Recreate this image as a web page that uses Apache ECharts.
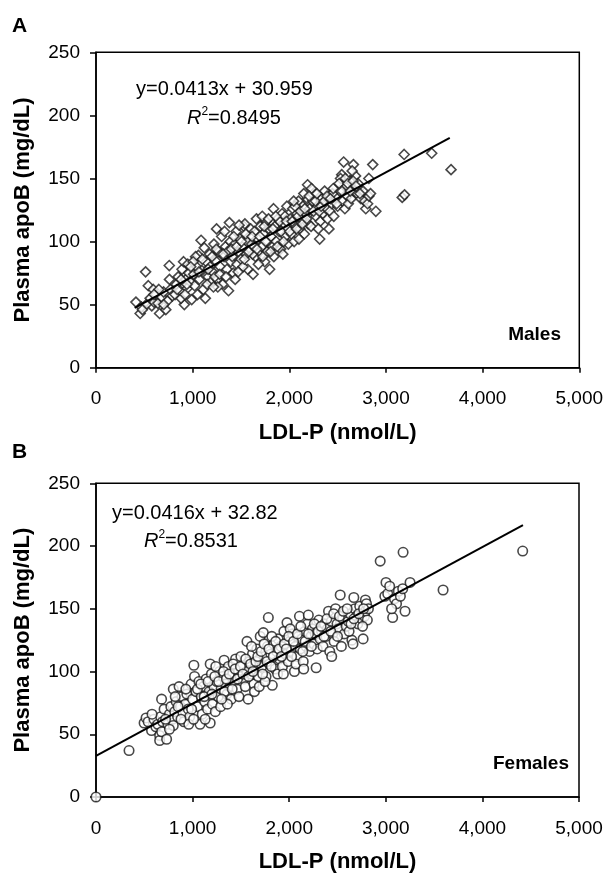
<!DOCTYPE html>
<html>
<head>
<meta charset="utf-8">
<script src="https://cdn.jsdelivr.net/npm/echarts@6/dist/echarts.min.js"></script>
<style>
html,body{margin:0;padding:0;background:#fff;}
#chart{width:609px;height:876px;}
</style>
</head>
<body>
<div id="chart"></div>
<script>
// ---- Data ----
const xTicks = [0, 1000, 2000, 3000, 4000, 5000];
const yTicks = [0, 50, 100, 150, 200, 250];
const panelLabels = ['A', 'B'];
const groupLabels = ['Males', 'Females'];
const xAxisTitle = 'LDL-P (nmol/L)';
const yAxisTitle = 'Plasma apoB (mg/dL)';
const eqTextA = ['y=0.0413x + 30.959', '0.8495'];
const eqTextB = ['y=0.0416x + 32.82', '0.8531'];
const fitA = [0.0413, 30.959];      // slope, intercept
const fitB = [0.0416, 32.82];
const fitRangeA = [400, 3660];
const fitRangeB = [0, 4420];

const malesData = [
[413,52],[457,43],[470,48],[513,76],[541,65],[560,55],[577,49],[593,62],[600,52],[520,50],[480,46],
[620,58],[640,51],[658,43],[680,56],[700,60],[722,46],[740,53],[758,81],[770,62],[790,57],[700,50],[650,62],
[818,58],[830,66],[850,72],[870,61],[890,78],[906,84],[914,50],[930,70],[945,63],[960,75],[975,68],[990,54],[880,55],[950,82],[920,58],
[1010,74],[1020,65],[1040,80],[1059,89],[1070,70],[1087,101],[1095,77],[1110,62],[1131,55],[1140,84],[1160,72],[1175,90],[1190,68],[1050,58],[1120,95],[1180,80],[1030,88],
[1205,76],[1220,98],[1235,85],[1247,110],[1255,70],[1270,92],[1285,80],[1300,104],[1310,66],[1325,88],[1340,96],[1355,78],[1371,61],[1380,115],[1390,100],[1395,84],[1260,64],[1330,108],[1230,72],[1360,92],
[1410,88],[1420,75],[1435,98],[1450,108],[1460,82],[1475,92],[1490,102],[1500,86],[1515,96],[1530,112],[1540,114],[1555,90],[1570,78],[1585,104],[1595,94],[1440,70],[1480,113],[1520,80],[1560,100],[1600,110],
[1610,98],[1625,74],[1640,108],[1650,88],[1660,118],[1675,102],[1690,92],[1700,112],[1715,96],[1730,106],[1745,84],[1760,116],[1775,100],[1796,78],[1620,90],[1680,82],[1720,120],[1770,92],[1790,110],
[1810,104],[1825,96],[1837,126],[1850,112],[1865,100],[1880,118],[1895,108],[1910,94],[1925,122],[1933,90],[1945,114],[1960,104],[1975,128],[1990,98],[1840,88],[1900,116],[1955,120],[1985,110],
[2010,118],[2020,106],[2035,126],[2050,100],[2065,112],[2080,122],[2095,132],[2110,110],[2125,118],[2140,128],[2155,106],[2170,122],[2185,134],[2189,145],[2060,128],[2100,102],[2150,138],[2195,114],
[2210,126],[2225,112],[2240,132],[2262,139],[2275,120],[2290,128],[2314,102],[2320,116],[2335,134],[2350,122],[2365,140],[2380,126],[2395,118],[2230,142],[2300,110],[2340,130],
[2410,110],[2420,124],[2440,130],[2460,120],[2480,136],[2500,128],[2520,140],[2542,153],[2550,132],[2562,163],[2575,126],[2590,144],[2530,150],[2445,138],[2600,136],
[2610,130],[2625,148],[2640,134],[2663,161],[2670,140],[2685,152],[2700,138],[2720,142],[2740,134],[2763,140],[2780,132],[2791,126],[2650,156],[2710,146],
[2810,130],[2823,150],[2823,136],[2840,138],[2863,161],[2895,124],
[3168,135],[3188,169],[3192,137],[3473,170],[3673,157],
[1005,84],[1065,76],[1150,66],[1200,88],[1215,64],[1245,94],[1280,74],[1315,90],[1345,72],[1400,94],[1425,104],[1455,96],[1470,76],[1505,100],[1535,86],[1550,106],[1580,92],[1615,104],[1635,96],[1665,94],[1695,104],[1725,88],[1740,112],[1755,100],[1785,118],[1805,92],[1830,110],[1860,120],[1875,96],[1915,108],[1940,100],[1970,116],[2005,108],[2030,116],[2045,132],[2075,110],[2090,120],[2115,124],[2135,114],[2160,126],[2180,118],[2205,136],[2250,124],[2270,132],[2285,138],[2310,124],[2330,128],[2360,132],[2390,136],[2425,134],[2455,142],[2490,130],[2515,146],[2545,140],[2580,150],[2605,146],[2630,140],[2660,148],[2690,144],[2730,138],[880,70],[940,66],[980,80],[760,70],[840,62],[600,58],[1100,86],[1160,78]
];

const femalesData = [
[0,0],[342,37],
[498,59],[518,63],[540,60],[575,53],[600,62],[620,56],[640,58],[659,49],[659,45],[670,64],[680,52],[690,60],
[679,78],[705,70],[731,46],[745,58],[760,66],[775,72],[790,62],[800,57],[800,86],[815,68],[830,76],[845,64],[860,88],[875,72],[890,80],[900,67],
[910,60],[925,74],[940,82],[955,70],[970,64],[985,90],[1000,78],[1013,105],[1020,96],[1035,84],[1050,72],[1065,92],[1077,58],[1090,80],[1100,66],[960,58],[1010,62],
[1110,88],[1125,76],[1140,94],[1155,70],[1170,84],[1182,106],[1182,59],[1195,98],[1205,74],[1220,88],[1235,68],[1250,92],[1265,80],[1280,100],[1295,86],[1130,62],[1240,104],[1290,72],
[1310,96],[1326,109],[1340,90],[1355,82],[1370,104],[1385,88],[1400,78],[1415,98],[1430,92],[1445,110],[1460,86],[1475,100],[1490,96],[1500,112],[1360,74],[1420,106],[1480,80],[1330,84],
[1515,104],[1530,94],[1545,88],[1563,124],[1575,78],[1590,108],[1605,98],[1620,114],[1635,90],[1650,104],[1665,118],[1680,96],[1695,110],[1700,128],[1560,100],[1640,84],[1610,120],[1690,88],
[1715,104],[1732,131],[1745,112],[1760,96],[1775,120],[1784,143],[1795,106],[1810,114],[1825,89],[1840,122],[1855,102],[1870,116],[1885,126],[1900,110],[1750,92],[1820,128],[1880,98],
[1915,120],[1930,104],[1945,132],[1960,114],[1977,139],[1990,108],[2005,124],[2020,116],[2035,130],[2054,100],[2065,120],[2080,112],[2095,128],[1940,98],[2010,134],[2070,106],
[2106,144],[2115,118],[2130,126],[2145,108],[2160,132],[2175,120],[2190,138],[2198,145],[2210,116],[2225,128],[2240,134],[2255,122],[2270,130],[2279,103],[2290,118],[2150,102],
[2307,141],[2320,126],[2335,132],[2350,120],[2365,138],[2380,128],[2395,134],[2407,148],[2420,116],[2435,140],[2450,130],[2465,124],[2480,150],[2495,138],[2440,112],
[2510,134],[2528,161],[2540,120],[2555,142],[2570,130],[2590,136],[2610,140],[2630,146],[2649,125],[2660,122],[2669,159],[2680,150],[2695,144],[2620,132],
[2710,138],[2730,152],[2750,142],[2765,126],[2780,144],[2789,148],[2789,157],[2800,154],[2809,141],[2820,150],[2760,136],
[2942,188],[2990,160],[3002,171],[3020,162],[3040,168],[3071,143],[3090,158],[3111,154],[3130,164],[3151,160],[3175,166],[3179,195],[3199,148],[3251,171],[3060,150],
[3593,165],[4417,196],
[1050,86],[1085,90],[1120,80],[1160,92],[1200,82],[1230,96],[1270,92],[1300,78],[1320,100],[1350,94],[1380,98],[1410,86],[1440,102],[1465,94],[1495,104],[1520,98],[1550,110],[1580,96],[1600,106],[1625,100],[1655,108],[1675,112],[1710,116],[1725,98],[1740,122],[1770,108],[1790,118],[1815,104],[1835,112],[1860,124],[1895,118],[1920,112],[1950,122],[1970,118],[1995,128],[2025,112],[2045,124],[2085,130],[2120,136],[2140,116],[2165,124],[2200,130],[2230,120],[2260,138],[2300,132],[2330,136],[2360,128],[2390,142],[2430,132],[2460,146],[2500,128],[2520,144],[2560,148],[2600,150],[2640,138],[2670,142],[2720,146],[2770,150],[850,72],[880,62],[930,86],[990,70],[720,62],[760,54],[580,66],[820,80]
];

// ---- Build ----
function fitLine(fit, range) {
  return range.map(x => [x, fit[0] * x + fit[1]]);
}
const FONT = '"Liberation Sans", Arial, sans-serif';
const grids = [
  {left: 96, top: 52.3, width: 483.3, height: 315.4},
  {left: 96, top: 483.3, width: 483, height: 313.7}
];

function xAxisFor(i) {
  return {
    gridIndex: i, type: 'value', min: xTicks[0], max: xTicks[xTicks.length - 1],
    interval: xTicks[1] - xTicks[0],
    name: xAxisTitle, nameLocation: 'middle', nameGap: 54,
    nameTextStyle: {fontFamily: FONT, fontWeight: 'bold', fontSize: 22, color: '#000'},
    axisLine: {show: true, onZero: false, lineStyle: {color: '#000', width: 1.5}},
    axisTick: {show: true, length: 5, lineStyle: {color: '#000', width: 1.5}},
    axisLabel: {fontFamily: FONT, fontSize: 19, color: '#000', margin: 22},
    splitLine: {show: false}
  };
}
function yAxisFor(i) {
  return {
    gridIndex: i, type: 'value', min: yTicks[0], max: yTicks[yTicks.length - 1],
    interval: yTicks[1] - yTicks[0],
    name: yAxisTitle, nameLocation: 'middle', nameGap: 62,
    nameTextStyle: {fontFamily: FONT, fontWeight: 'bold', fontSize: 22, color: '#000'},
    axisLine: {show: true, onZero: false, lineStyle: {color: '#000', width: 1.5}},
    axisTick: {show: true, length: 6, lineStyle: {color: '#000', width: 1.5}},
    axisLabel: {fontFamily: FONT, fontSize: 19, color: '#000', margin: 16},
    splitLine: {show: false}
  };
}

function eqGraphics(eq, x1, y1, x2, y2) {
  return [
    {type: 'text', x: x1, y: y1, style: {text: eq[0], font: '20px ' + FONT, fill: '#000', textAlign: 'left', textVerticalAlign: 'middle'}},
    {type: 'text', x: x2, y: y2, style: {
      text: '{r|R}{s|2}{n|=' + eq[1] + '}', fill: '#000', textAlign: 'left', textVerticalAlign: 'middle',
      rich: {
        r: {fontFamily: FONT, fontSize: 20, fontStyle: 'italic', lineHeight: 22, verticalAlign: 'bottom'},
        s: {fontFamily: FONT, fontSize: 12, lineHeight: 14, verticalAlign: 'top'},
        n: {fontFamily: FONT, fontSize: 20, lineHeight: 22, verticalAlign: 'bottom'}
      }
    }}
  ];
}

const option = {
  animation: false,
  backgroundColor: '#fff',
  grid: grids.map(g => Object.assign({show: true, borderColor: '#000', borderWidth: 1.5, backgroundColor: 'transparent'}, g)),
  xAxis: [xAxisFor(0), xAxisFor(1)],
  yAxis: [yAxisFor(0), yAxisFor(1)],
  graphic: [
    {type: 'text', x: 12, y: 26, style: {text: panelLabels[0], font: 'bold 21px ' + FONT, fill: '#000', textAlign: 'left', textVerticalAlign: 'middle'}},
    {type: 'text', x: 12, y: 452, style: {text: panelLabels[1], font: 'bold 21px ' + FONT, fill: '#000', textAlign: 'left', textVerticalAlign: 'middle'}},
    {type: 'text', x: 561, y: 335, style: {text: groupLabels[0], font: 'bold 19px ' + FONT, fill: '#000', textAlign: 'right', textVerticalAlign: 'middle'}},
    {type: 'text', x: 569, y: 764, style: {text: groupLabels[1], font: 'bold 19px ' + FONT, fill: '#000', textAlign: 'right', textVerticalAlign: 'middle'}}
  ].concat(eqGraphics(eqTextA, 136, 89, 187, 117), eqGraphics(eqTextB, 112, 513, 144, 540)),
  series: [
    {type: 'scatter', xAxisIndex: 0, yAxisIndex: 0, data: malesData, symbol: 'diamond', symbolSize: 10, clip: false,
     itemStyle: {color: '#fff', borderColor: '#1a1a1a', borderWidth: 1.6}, z: 3},
    {type: 'line', xAxisIndex: 0, yAxisIndex: 0, data: fitLine(fitA, fitRangeA), symbol: 'none',
     lineStyle: {color: '#000', width: 2}, z: 4},
    {type: 'scatter', xAxisIndex: 1, yAxisIndex: 1, data: femalesData, symbol: 'circle', symbolSize: 9.5, clip: false,
     itemStyle: {color: '#fff', borderColor: '#1a1a1a', borderWidth: 1.6}, z: 3},
    {type: 'line', xAxisIndex: 1, yAxisIndex: 1, data: fitLine(fitB, fitRangeB), symbol: 'none',
     lineStyle: {color: '#000', width: 2}, z: 4}
  ]
};
const chart = echarts.init(document.getElementById('chart'), null, {renderer: 'canvas'});
chart.setOption(option);
</script>
</body>
</html>
